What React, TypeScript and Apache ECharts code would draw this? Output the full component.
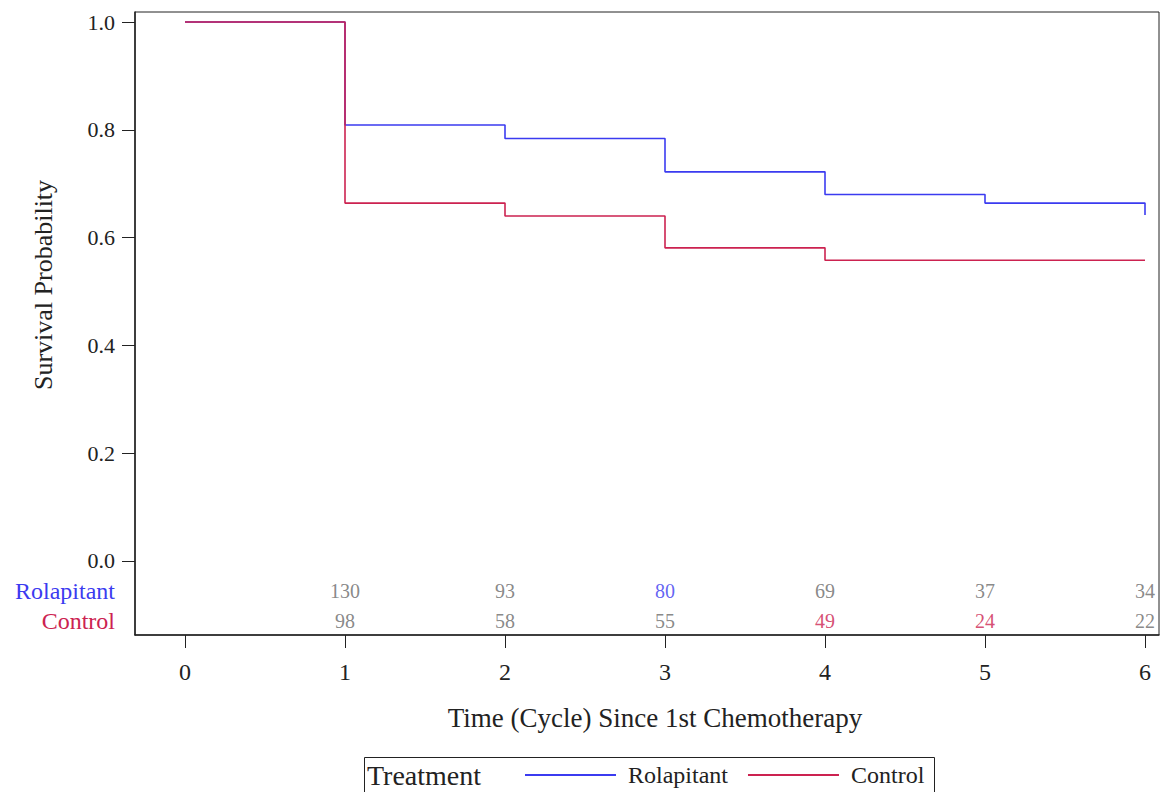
import React, { useEffect, useRef } from "react";
import * as echarts from "echarts";

const groups = ["Rolapitant", "Control"];
const rolTimes = [0, 1, 2, 3, 4, 5, 6];
const rolSurv = [1.0, 0.809, 0.784, 0.722, 0.68, 0.664, 0.642];
const conTimes = [0, 1, 2, 3, 4, 6];
const conSurv = [1.0, 0.664, 0.64, 0.581, 0.558, 0.558];
const riskTimes = [1, 2, 3, 4, 5, 6];
const rolRisk = [130, 93, 80, 69, 37, 34];
const conRisk = [98, 58, 55, 49, 24, 22];
const xTicks = [0, 1, 2, 3, 4, 5, 6];
const yTicks = [0, 0.2, 0.4, 0.6, 0.8, 1.0];

const BLUE = "#3b3bf0";
const RED = "#cc2250";
const FONT = '"Liberation Serif", "Times New Roman", serif';
const ROW_ROL = -0.0557;
const ROW_CON = -0.1113;

export default function App() {
  const ref = useRef<HTMLDivElement>(null);
  useEffect(() => {
    if (!ref.current) return;
    const chart = echarts.init(ref.current, null, { renderer: "svg" });
    const rolColors = rolRisk.map((_, i) => (i === 2 ? BLUE : "#6a6a6a"));
    const conColors = conRisk.map((_, i) => (i === 3 || i === 4 ? RED : "#6a6a6a"));
    chart.setOption({
      animation: false,
      backgroundColor: "#fff",
      textStyle: { fontFamily: FONT },
      grid: {
        left: 135,
        top: 12,
        width: 1024,
        height: 623,
        show: true,
        borderColor: "#222",
        borderWidth: 1,
      },
      xAxis: {
        type: "value",
        min: -0.3125,
        max: 6.0875,
        axisLine: { show: true, onZero: false, lineStyle: { color: "#222", width: 1.5 } },
        axisTick: { show: true, customValues: xTicks, length: 13, lineStyle: { color: "#222" } },
        axisLabel: {
          customValues: xTicks,
          margin: 25,
          fontSize: 24,
          color: "#222",
          fontFamily: FONT,
        },
        splitLine: { show: false },
      },
      yAxis: {
        type: "value",
        min: -0.1373,
        max: 1.0186,
        axisLine: { show: true, onZero: false, lineStyle: { color: "#222", width: 1.5 } },
        axisTick: { show: true, customValues: yTicks, length: 13, lineStyle: { color: "#222" } },
        axisLabel: {
          customValues: [ROW_CON, ROW_ROL, ...yTicks],
          margin: 20,
          fontSize: 22,
          color: "#222",
          fontFamily: FONT,
          formatter: (v: number) => {
            if (v === ROW_ROL) return "{r|" + groups[0] + "}";
            if (v === ROW_CON) return "{c|" + groups[1] + "}";
            return v.toFixed(1);
          },
          rich: {
            r: { color: BLUE, fontSize: 24, fontFamily: FONT },
            c: { color: RED, fontSize: 24, fontFamily: FONT },
          },
        },
        splitLine: { show: false },
      },
      legend: {
        left: 524,
        top: 763,
        padding: 0,
        itemWidth: 91,
        itemHeight: 14,
        itemGap: 19,
        data: groups,
        itemStyle: { opacity: 0 },
        textStyle: { fontSize: 24, color: "#222", fontFamily: FONT, padding: [0, 0, 0, 7] },
      },
      graphic: [
        {
          type: "rect",
          shape: { x: 364.5, y: 757.5, width: 570, height: 40 },
          style: { fill: "none", stroke: "#222", lineWidth: 1 },
          silent: true,
        },
        {
          type: "text",
          x: 367,
          y: 775,
          style: {
            text: "Treatment",
            font: '28px "Liberation Serif", serif',
            fill: "#222",
            textVerticalAlign: "middle",
          },
        },
        {
          type: "text",
          x: 43,
          y: 285,
          rotation: Math.PI / 2,
          style: {
            text: "Survival Probability",
            font: '26px "Liberation Serif", serif',
            fill: "#222",
            textAlign: "center",
            textVerticalAlign: "middle",
          },
        },
        {
          type: "text",
          x: 655,
          y: 718,
          style: {
            text: "Time (Cycle) Since 1st Chemotherapy",
            font: '27px "Liberation Serif", serif',
            fill: "#222",
            textAlign: "center",
            textVerticalAlign: "middle",
          },
        },
      ],
      series: [
        {
          name: groups[0],
          type: "line",
          step: "end",
          symbol: "none",
          color: BLUE,
          lineStyle: { color: BLUE, width: 1.6 },
          data: rolTimes.map((t, i) => [t, rolSurv[i]]),
          z: 2,
        },
        {
          name: groups[1],
          type: "line",
          step: "end",
          symbol: "none",
          color: RED,
          lineStyle: { color: RED, width: 1.6 },
          data: conTimes.map((t, i) => [t, conSurv[i]]),
          z: 3,
        },
        {
          type: "scatter",
          symbolSize: 0,
          silent: true,
          data: riskTimes.map((t, i) => ({
            value: [t, ROW_ROL, rolRisk[i]],
            label: { color: rolColors[i] },
          })),
          label: {
            show: true,
            position: "inside",
            fontSize: 20,
            fontFamily: FONT,
            formatter: (p: any) => String(p.value[2]),
          },
        },
        {
          type: "scatter",
          symbolSize: 0,
          silent: true,
          data: riskTimes.map((t, i) => ({
            value: [t, ROW_CON, conRisk[i]],
            label: { color: conColors[i] },
          })),
          label: {
            show: true,
            position: "inside",
            fontSize: 20,
            fontFamily: FONT,
            formatter: (p: any) => String(p.value[2]),
          },
        },
      ],
    });
    return () => chart.dispose();
  }, []);
  return (
    <div
      ref={ref}
      style={{ position: "absolute", left: 0, top: 0, width: 1162, height: 792 }}
    />
  );
}
